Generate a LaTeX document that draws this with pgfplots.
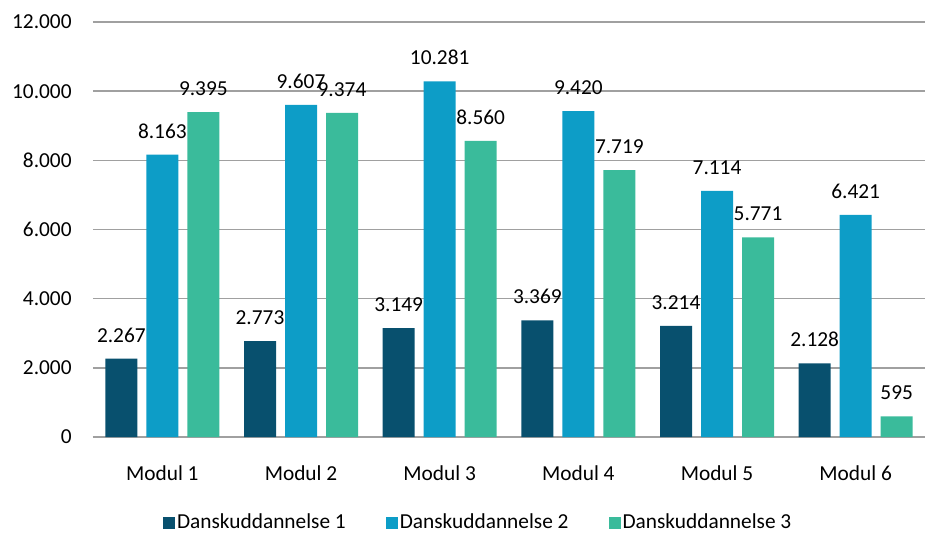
\documentclass[border=0pt]{standalone}
\usepackage{pgfplots}
\pgfplotsset{compat=1.18}
\usepackage{fontspec}
\setmainfont{Carlito}
\definecolor{c1}{RGB}{8,80,110}
\definecolor{c2}{RGB}{13,157,199}
\definecolor{c3}{RGB}{58,187,155}
\definecolor{gridc}{RGB}{160,160,160}
\begin{document}
\fontsize{10.67}{12.8}\selectfont
\begin{tikzpicture}
\useasboundingbox (0,0) rectangle (462.5pt,268pt);
\begin{axis}[
  at={(46.5pt,49.5pt)}, anchor=south west,
  scale only axis, width=416pt, height=207.5pt,
  xmin=-0.5, xmax=5.5, ymin=0, ymax=12000,
  ybar=4.5pt, bar width=16pt,
  xtick={0,1,2,3,4,5},
  xticklabels={Modul 1,Modul 2,Modul 3,Modul 4,Modul 5,Modul 6},
  ytick={0,2000,4000,6000,8000,10000,12000},
  scaled y ticks=false,
  /pgf/number format/.cd, 1000 sep={.}, fixed, precision=0, assume math mode=true,
  /pgfplots/.cd,
  tick style={draw=none},
  ymajorgrids, major grid style={gridc, line width=0.75pt},
  axis x line*=bottom, axis y line*=left,
  x axis line style={gridc, line width=0.75pt},
  y axis line style={draw=none},
  yticklabel style={anchor=east, inner sep=0pt, xshift=-10.5pt},
  xticklabel style={anchor=north, inner sep=0pt, yshift=-10pt},
  nodes near coords,
  every node near coord/.append style={anchor=south, inner sep=0pt, yshift=8pt, black},
  legend columns=3,
  legend style={at={(0.463,-0.207)}, anchor=center, draw=none, fill=none,
    /tikz/every even column/.append style={column sep=19pt},
    nodes={inner sep=1pt}},
]
\addplot[fill=c1, draw=none, legend image code/.code={\fill[c1] (0pt,-3pt) rectangle (6pt,3pt);}]
  coordinates {(0,2267) (1,2773) (2,3149) (3,3369) (4,3214) (5,2128)};
\addlegendentry{Danskuddannelse 1}
\addplot[fill=c2, draw=none, legend image code/.code={\fill[c2] (0pt,-3pt) rectangle (6pt,3pt);}]
  coordinates {(0,8163) (1,9607) (2,10281) (3,9420) (4,7114) (5,6421)};
\addlegendentry{Danskuddannelse 2}
\addplot[fill=c3, draw=none, legend image code/.code={\fill[c3] (0pt,-3pt) rectangle (6pt,3pt);}]
  coordinates {(0,9395) (1,9374) (2,8560) (3,7719) (4,5771) (5,595)};
\addlegendentry{Danskuddannelse 3}
\end{axis}
\end{tikzpicture}
\end{document}
